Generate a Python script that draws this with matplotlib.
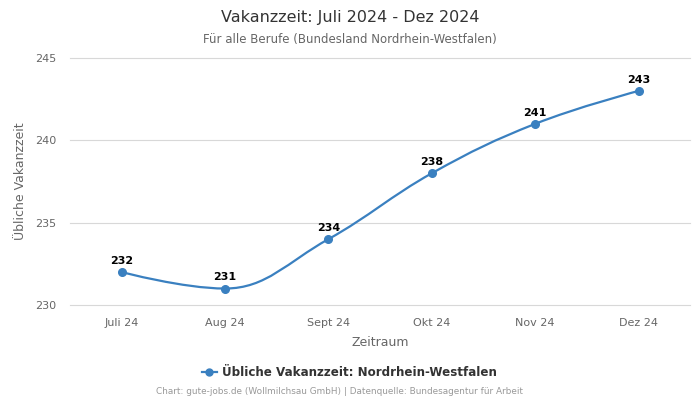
import matplotlib
matplotlib.use("Agg")
import matplotlib.pyplot as plt
from matplotlib.path import Path
from matplotlib.patches import PathPatch

# Daten
monate = ["Juli 24", "Aug 24", "Sept 24", "Okt 24", "Nov 24", "Dez 24"]
werte = [232, 231, 234, 238, 241, 243]
farbe = "#3a80c0"


# Spline-Kontrollpunkte wie Highcharts (smoothing 1.5)
def spline_pfad(xs, ys):
    n = len(xs)
    links = [None] * n
    rechts = [None] * n
    s, d = 1.5, 2.5
    for i in range(n):
        x, y = xs[i], ys[i]
        if i == 0 or i == n - 1:
            links[i] = (x, y)
            rechts[i] = (x, y)
            continue
        lx, ly = xs[i - 1], ys[i - 1]
        nx, ny = xs[i + 1], ys[i + 1]
        lcx, lcy = (s * x + lx) / d, (s * y + ly) / d
        rcx, rcy = (s * x + nx) / d, (s * y + ny) / d
        korr = (rcy - lcy) * (rcx - x) / (rcx - lcx) + y - rcy
        lcy += korr
        rcy += korr
        if lcy > ly and lcy > y:
            lcy = max(ly, y)
            rcy = 2 * y - lcy
        elif lcy < ly and lcy < y:
            lcy = min(ly, y)
            rcy = 2 * y - lcy
        if rcy > ny and rcy > y:
            rcy = max(ny, y)
            lcy = 2 * y - rcy
        elif rcy < ny and rcy < y:
            rcy = min(ny, y)
            lcy = 2 * y - rcy
        links[i] = (lcx, lcy)
        rechts[i] = (rcx, rcy)
    verts = [(xs[0], ys[0])]
    codes = [Path.MOVETO]
    for i in range(1, n):
        verts += [rechts[i - 1], links[i], (xs[i], ys[i])]
        codes += [Path.CURVE4] * 3
    return Path(verts, codes)


fig = plt.figure(figsize=(7, 4), dpi=100)
ax = fig.add_axes([0.1, 0.2375, 0.886, 0.6175])

xs = list(range(len(monate)))
ax.add_patch(PathPatch(spline_pfad(xs, werte), fill=False, edgecolor=farbe, lw=1.6, zorder=3))
ax.plot(xs, werte, "o", color=farbe, ms=5.5, zorder=4, clip_on=False)
for x, y in zip(xs, werte):
    ax.annotate(str(y), (x, y), xytext=(0, 4.5), textcoords="offset points",
                ha="center", va="bottom", fontsize=8, fontweight="bold", color="black")

ax.set_xlim(-0.5, len(monate) - 0.5)
ax.set_ylim(230, 245)
ax.set_yticks([230, 235, 240, 245])
ax.set_xticks(xs)
ax.set_xticklabels(monate)
ax.tick_params(axis="both", length=0, labelsize=8, colors="#666666")
ax.tick_params(axis="y", pad=10)
ax.tick_params(axis="x", pad=9)
ax.grid(axis="y", color="#d8d8d8", lw=0.8)
for gl in ax.get_ygridlines():
    gl.set_clip_on(False)
ax.set_axisbelow(True)
for sp in ax.spines.values():
    sp.set_visible(False)

ax.set_xlabel("Zeitraum", fontsize=9, color="#666666", labelpad=6)
ax.set_ylabel("Übliche Vakanzzeit", fontsize=9, color="#666666", labelpad=6)

fig.text(0.5, 0.957, "Vakanzzeit: Juli 2024 - Dez 2024", ha="center", va="center",
         fontsize=11.5, color="#333333")
fig.text(0.5, 0.902, "Für alle Berufe (Bundesland Nordrhein-Westfalen)", ha="center", va="center",
         fontsize=8.5, color="#666666")

# Legende
leg_y = 0.07
fig.lines.append(plt.Line2D([0.288, 0.31], [leg_y, leg_y], transform=fig.transFigure,
                            color=farbe, lw=1.6))
fig.lines.append(plt.Line2D([0.299], [leg_y], transform=fig.transFigure, color=farbe,
                            marker="o", ms=5))
fig.text(0.317, leg_y, "Übliche Vakanzzeit: Nordrhein-Westfalen", ha="left", va="center",
         fontsize=8.6, fontweight="bold", color="#333333")
fig.text(0.485, 0.02, "Chart: gute-jobs.de (Wollmilchsau GmbH) | Datenquelle: Bundesagentur für Arbeit",
         ha="center", va="center", fontsize=6.4, color="#999999")

fig.savefig("out.png", dpi=100)
